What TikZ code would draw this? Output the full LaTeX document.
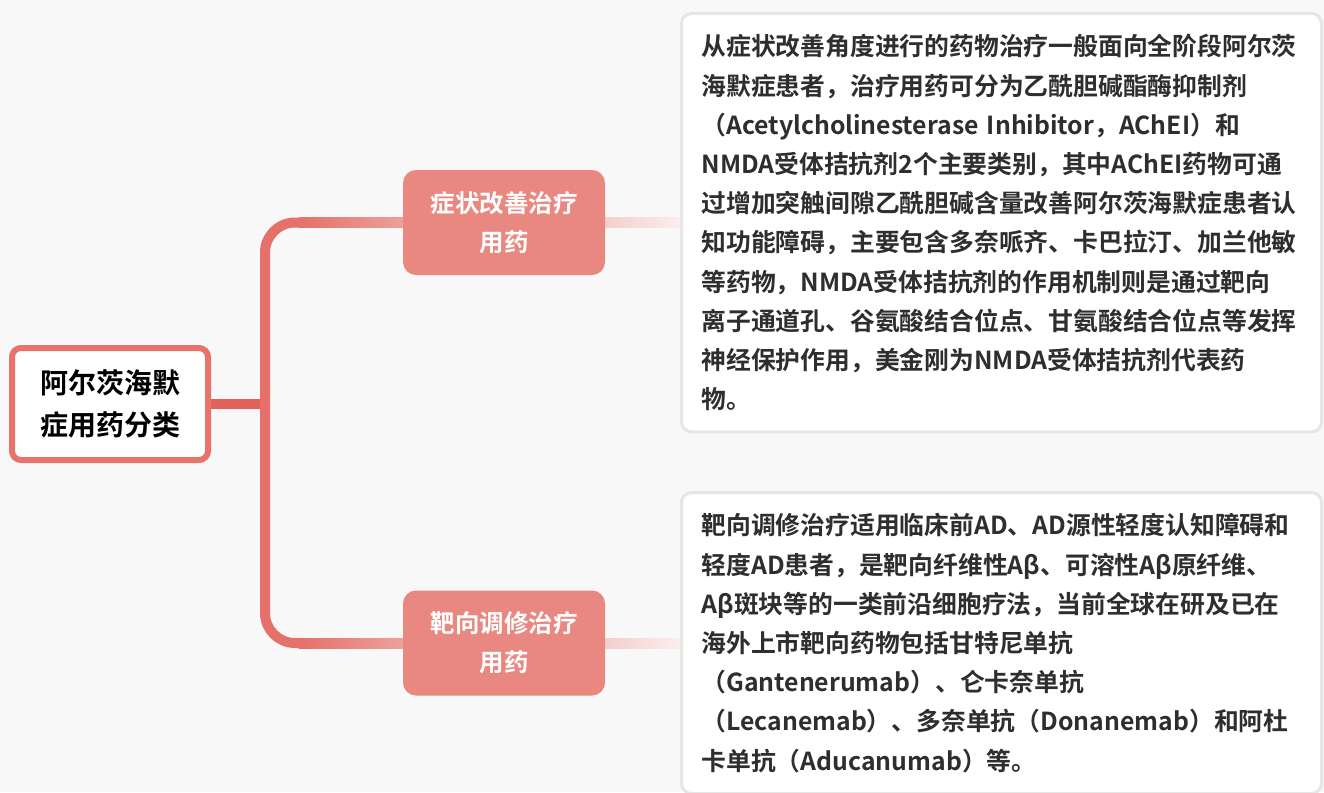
\documentclass[tikz,border=0pt]{standalone}
\usepackage{fontspec}
\setmainfont{Noto Sans CJK SC}[BoldFont={* Bold}]
\usetikzlibrary{calc}
\definecolor{bgc}{HTML}{F8F8F8}
\definecolor{rootc}{HTML}{E8736B}
\definecolor{stubc}{HTML}{E2625A}
\definecolor{trunkc}{HTML}{E5716A}
\definecolor{hlight}{HTML}{ECA19B}
\definecolor{branchc}{HTML}{E98880}
\definecolor{linkA}{HTML}{F3CFCC}
\definecolor{linkB}{HTML}{FBEEED}
\definecolor{boxline}{HTML}{E6E6E6}
\definecolor{txtc}{HTML}{2E2E2E}
\pgfdeclarelayer{bg}
\pgfsetlayers{bg,main}
\begin{document}
\begin{tikzpicture}[x=1pt,y=-1pt,
 rootbox/.style={draw=rootc, line width=6pt, fill=white, rounded corners=9pt, minimum width=196pt, minimum height=112pt, align=center, font=\bfseries\fontsize{28}{42}\selectfont, text=black, inner sep=0pt},
 branchbox/.style={fill=branchc, rounded corners=13pt, minimum width=202pt, minimum height=105pt, align=center, text=white, font=\bfseries\fontsize{24.5}{39}\selectfont, inner sep=0pt},
 textbox/.style={draw=boxline, line width=3pt, fill=white, rounded corners=10pt, text width=600pt, align=left, inner xsep=20pt, inner ysep=21pt, text=txtc, font=\bfseries\fontsize{24.8}{39.2}\selectfont, anchor=north west},
 stub/.style={draw=stubc, line width=10pt},
 trunk/.style={draw=trunkc, line width=10pt, rounded corners=30pt},
]
\useasboundingbox (0,0) rectangle (1324,792);
\clip (0,0) rectangle (1324,792);

\node[rootbox] (root) at (110,404) {阿尔茨海默\\症用药分类};
\node[branchbox] (b1) at (504,222.5) {症状改善治疗\\用药};
\node[branchbox] (b2) at (504,643) {靶向调修治疗\\用药};

\node[textbox] (t1) at (680,12) {从症状改善角度进行的药物治疗一般面向全阶段阿尔茨\\
海默症患者，治疗用药可分为乙酰胆碱酯酶抑制剂\\
（Acetylcholinesterase Inhibitor，AChEI）和\\
NMDA受体拮抗剂2个主要类别，其中AChEI药物可通\\
过增加突触间隙乙酰胆碱含量改善阿尔茨海默症患者认\\
知功能障碍，主要包含多奈哌齐、卡巴拉汀、加兰他敏\\
等药物，NMDA受体拮抗剂的作用机制则是通过靶向\\
离子通道孔、谷氨酸结合位点、甘氨酸结合位点等发挥\\
神经保护作用，美金刚为NMDA受体拮抗剂代表药\\
物。};

\node[textbox] (t2) at (680,491) {靶向调修治疗适用临床前AD、AD源性轻度认知障碍和\\
轻度AD患者，是靶向纤维性Aβ、可溶性Aβ原纤维、\\
Aβ斑块等的一类前沿细胞疗法，当前全球在研及已在\\
海外上市靶向药物包括甘特尼单抗\\
（Gantenerumab）、仑卡奈单抗\\
（Lecanemab）、多奈单抗（Donanemab）和阿杜\\
卡单抗（Aducanumab）等。};

\begin{pgfonlayer}{bg}
\fill[bgc] (0,0) rectangle (1324,792);
\coordinate (j) at (265,404);
\draw[stub] (root.east) -- (j);
\draw[trunk] (b1.west) -| (j) |- (b2.west);
\shade[left color=trunkc, right color=hlight] ($(b1.west)+(-104,-5)$) rectangle ($(b1.west)+(0,5)$);
\shade[left color=trunkc, right color=hlight] ($(b2.west)+(-104,-5)$) rectangle ($(b2.west)+(0,5)$);
\shade[left color=linkA, right color=linkB] ($(b1.east)+(0,-5)$) rectangle ($(t1.west|-b1.east)+(0,5)$);
\shade[left color=linkA, right color=linkB] ($(b2.east)+(0,-5)$) rectangle ($(t2.west|-b2.east)+(0,5)$);
\end{pgfonlayer}
\end{tikzpicture}
\end{document}
